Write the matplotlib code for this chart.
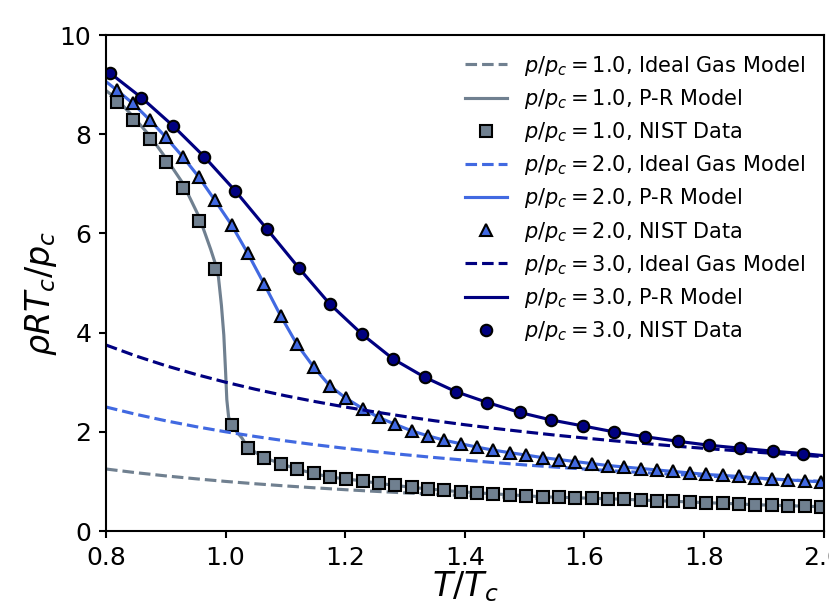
import matplotlib
matplotlib.use("Agg")
import matplotlib.pyplot as plt

# ---------------- data ----------------
pressures = [1.0, 2.0, 3.0]
colors = ["slategray", "royalblue", "navy"]

# ideal gas model
ideal_T = [0.80, 0.85, 0.90, 0.95, 1.00, 1.05, 1.10, 1.15, 1.20, 1.25, 1.30,
           1.35, 1.40, 1.45, 1.50, 1.55, 1.60, 1.65, 1.70, 1.75, 1.80, 1.85,
           1.90, 1.95, 2.00]
ideal_p1 = [1.250, 1.176, 1.111, 1.053, 1.000, 0.952, 0.909, 0.870, 0.833,
            0.800, 0.769, 0.741, 0.714, 0.690, 0.667, 0.645, 0.625, 0.606,
            0.588, 0.571, 0.556, 0.541, 0.526, 0.513, 0.500]
ideal_p2 = [2.500, 2.353, 2.222, 2.105, 2.000, 1.905, 1.818, 1.739, 1.667,
            1.600, 1.538, 1.481, 1.429, 1.379, 1.333, 1.290, 1.250, 1.212,
            1.176, 1.143, 1.111, 1.081, 1.053, 1.026, 1.000]
ideal_p3 = [3.750, 3.529, 3.333, 3.158, 3.000, 2.857, 2.727, 2.609, 2.500,
            2.400, 2.308, 2.222, 2.143, 2.069, 2.000, 1.935, 1.875, 1.818,
            1.765, 1.714, 1.667, 1.622, 1.579, 1.538, 1.500]

# NIST data, p/pc = 1 and 2 (same temperatures)
nist_T12 = [0.818, 0.845, 0.873, 0.900, 0.928, 0.955, 0.982, 1.010, 1.037,
            1.064, 1.092, 1.119, 1.147, 1.174, 1.201, 1.229, 1.256, 1.284,
            1.311, 1.338, 1.366, 1.393, 1.421, 1.448, 1.475, 1.503, 1.530,
            1.558, 1.585, 1.612, 1.640, 1.667, 1.695, 1.722, 1.749, 1.777,
            1.804, 1.832, 1.859, 1.886, 1.914, 1.941, 1.969, 1.996]
nist_p1 = [8.65, 8.29, 7.90, 7.44, 6.92, 6.25, 5.28, 2.14, 1.68, 1.48, 1.36,
           1.25, 1.16, 1.09, 1.05, 1.01, 0.96, 0.92, 0.88, 0.85, 0.82, 0.79,
           0.77, 0.75, 0.73, 0.71, 0.69, 0.68, 0.67, 0.66, 0.65, 0.64, 0.625,
           0.61, 0.60, 0.585, 0.57, 0.56, 0.545, 0.53, 0.52, 0.51, 0.50, 0.49]
nist_p2 = [8.89, 8.62, 8.29, 7.94, 7.55, 7.14, 6.67, 6.17, 5.60, 4.99, 4.34,
           3.77, 3.31, 2.93, 2.68, 2.47, 2.29, 2.15, 2.02, 1.92, 1.83, 1.76,
           1.69, 1.63, 1.58, 1.53, 1.48, 1.44, 1.40, 1.36, 1.32, 1.29, 1.26,
           1.23, 1.20, 1.17, 1.14, 1.12, 1.10, 1.07, 1.05, 1.03, 1.01, 0.99]
# NIST data, p/pc = 3
nist_T3 = [0.807, 0.859, 0.912, 0.964, 1.016, 1.069, 1.122, 1.174, 1.228,
           1.280, 1.333, 1.385, 1.438, 1.492, 1.544, 1.597, 1.649, 1.702,
           1.756, 1.808, 1.861, 1.915, 1.966]
nist_p3 = [9.23, 8.74, 8.17, 7.55, 6.86, 6.09, 5.31, 4.58, 3.97, 3.47, 3.10,
           2.81, 2.59, 2.39, 2.24, 2.12, 2.00, 1.90, 1.81, 1.73, 1.67, 1.61,
           1.56]

# Peng-Robinson model curves
pr_T1 = [0.800, 0.818, 0.845, 0.873, 0.900, 0.928, 0.955, 0.965, 0.975,
         0.982, 0.988, 0.993, 0.997, 1.000, 1.002, 1.005, 1.010, 1.020,
         1.027, 1.037, 1.052, 1.064, 1.092, 1.119, 1.147, 1.174, 1.201,
         1.229, 1.256, 1.284, 1.311, 1.338, 1.366, 1.393, 1.421, 1.448,
         1.475, 1.503, 1.530, 1.558, 1.585, 1.612, 1.640, 1.667, 1.695,
         1.722, 1.749, 1.777, 1.804, 1.832, 1.859, 1.886, 1.914, 1.941,
         1.969, 1.996, 2.000]
pr_p1 = [8.88, 8.71, 8.36, 7.97, 7.52, 7.02, 6.35, 6.02, 5.68, 5.42, 5.12,
         4.55, 3.95, 3.20, 2.65, 2.30, 2.13, 1.98, 1.88, 1.69, 1.57, 1.48,
         1.36, 1.25, 1.16, 1.09, 1.05, 1.01, 0.96, 0.92, 0.88, 0.85, 0.82,
         0.79, 0.77, 0.75, 0.73, 0.71, 0.69, 0.68, 0.67, 0.66, 0.65, 0.64,
         0.625, 0.61, 0.60, 0.585, 0.57, 0.56, 0.545, 0.53, 0.52, 0.51,
         0.50, 0.49, 0.49]
pr_T2 = [0.800] + nist_T12 + [2.000]
pr_p2 = [9.06] + nist_p2 + [0.99]
pr_T3 = [0.800] + nist_T3 + [2.000]
pr_p3 = [9.30] + nist_p3 + [1.52]

ideal_vals = [ideal_p1, ideal_p2, ideal_p3]
pr_T = [pr_T1, pr_T2, pr_T3]
pr_vals = [pr_p1, pr_p2, pr_p3]
nist_T = [nist_T12, nist_T12, nist_T3]
nist_vals = [nist_p1, nist_p2, nist_p3]
markers = ["s", "^", "o"]

# ---------------- figure ----------------
fig = plt.figure(figsize=(829 / 150, 605 / 150), dpi=150)
ax = fig.add_axes([0.1279, 0.1223, 0.8655, 0.8198])

for i, p in enumerate(pressures):
    c = colors[i]
    ax.plot(ideal_T, ideal_vals[i], "--", color=c, lw=1.5,
            label=rf"$p/p_c = {p:.1f}$, Ideal Gas Model")
    ax.plot(pr_T[i], pr_vals[i], "-", color=c, lw=1.5,
            label=rf"$p/p_c = {p:.1f}$, P-R Model")
    ax.plot(nist_T[i], nist_vals[i], linestyle="none", marker=markers[i],
            markersize=5.5, markerfacecolor=c, markeredgecolor="black",
            markeredgewidth=1.0, label=rf"$p/p_c = {p:.1f}$, NIST Data")

ax.set_xlim(0.8, 2.0)
ax.set_ylim(0, 10)
ax.set_xticks([0.8, 1.0, 1.2, 1.4, 1.6, 1.8, 2.0])
ax.set_yticks([0, 2, 4, 6, 8, 10])
ax.tick_params(labelsize=12, width=1.0)
for s in ax.spines.values():
    s.set_linewidth(1.0)
ax.set_xlabel(r"$T/T_c$", fontsize=16, labelpad=0)
ax.set_ylabel(r"$\rho R T_c/p_c$", fontsize=16)
ax.yaxis.set_label_coords(-0.065, 0.48)
ax.legend(loc="upper right", frameon=False, fontsize=10, labelspacing=0.44)

fig.savefig("out.png", dpi=150)
